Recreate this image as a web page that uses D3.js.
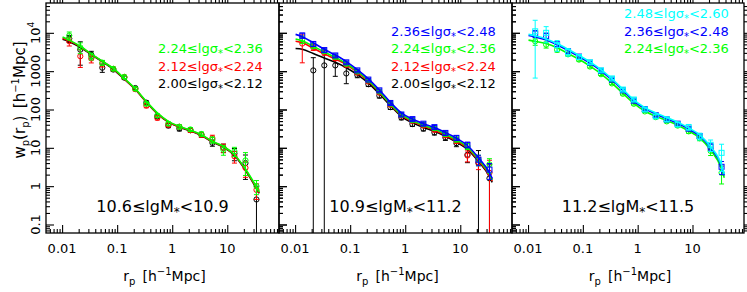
<!DOCTYPE html>
<html><head><meta charset="utf-8">
<script src="https://cdn.jsdelivr.net/npm/d3@7"></script>
<style>
body{margin:0;background:#fff}
svg{display:block}
text{font-family:"DejaVu Sans",Verdana,sans-serif}
</style>
</head><body>
<svg id="c" width="747" height="292"></svg>
<script>
// ---------- data ----------
const rp = [0.0135, 0.0214, 0.0339, 0.0537, 0.0851, 0.135, 0.214, 0.339, 0.537, 0.851, 1.35, 2.14, 3.39, 5.37, 8.51, 13.5, 21.4, 33.9];
const rModel = [0.0102, 0.0135, 0.0214, 0.0339, 0.0537, 0.0851, 0.135, 0.214, 0.339, 0.537, 0.851, 1.35, 2.14, 3.39, 5.37, 8.51, 13.5, 21.4, 33.9, 38];
const xTickValues = [0.01, 0.1, 1, 10];
const xTickLabels = ["0.01", "0.1", "1", "10"];
const yTickValues = [0.1, 1, 10, 100, 1000, 10000];
const yTickLabels = ["0.1", "1", "10", "100", "1000", "10^4"];
const massLabels = ["10.6", "10.9", "11.2", "11.5"];
const sigmaBins = ["2.00", "2.12", "2.24", "2.36", "2.48", "2.60"];

// panel 1 : 10.6 <= lgM* < 10.9
const p1BlackWp  = [7080, 3630, 2690, 1230, 1100, 676, 363, 151, 66, 38, 31.6, 28.8, 21.9, 13.5, 10, 7.1, 4.0, 0.45];
const p1BlackErr = [1500, 2200, 600, 300, 120, 70, 35, 15, 7, 4.5, 4, 3.5, 3, 2.5, 2.5, 2.5, 2.5, 0.55];
const p1BlackModel = [6760, 5890, 4170, 2690, 1780, 1120, 617, 331, 155, 77.6, 46.8, 34.7, 27.5, 20.9, 14.1, 10.5, 6.3, 2.6, 0.87, 0.65];
const p1RedWp  = [6030, 2450, 2140, 1585, 1150, 708, 339, 126, 60.3, 39.8, 35.5, 28.8, 21.9, 17.8, 10, 6.0, 3.0, 0.8];
const p1RedErr = [1500, 1200, 500, 300, 120, 70, 35, 15, 7, 4.5, 4, 3.5, 3, 3.5, 2.5, 2, 1.3, 0.35];
const p1RedModel = [7240, 6170, 4370, 2750, 1820, 1150, 631, 339, 158, 79.4, 47.9, 35.5, 28.2, 21.4, 14.5, 10.7, 6.5, 2.7, 0.9, 0.68];
const p1GreenWp  = [8510, 4170, 2450, 1660, 1150, 708, 347, 141, 69.2, 42.7, 35.5, 30.2, 22.9, 16.2, 8.9, 8.1, 4.7, 1.0];
const p1GreenErr = [2000, 1300, 500, 250, 120, 70, 35, 15, 7, 4.5, 4, 3.5, 3, 3, 2.5, 2.2, 2.8, 0.4];
const p1GreenModel = [7760, 6460, 4470, 2820, 1820, 1175, 646, 347, 162, 81.3, 49, 36.3, 28.8, 21.9, 14.8, 11, 6.6, 2.8, 0.95, 0.71];

// panel 2 : 10.9 <= lgM* < 11.2
const p2BlackWp  = [null, 1047, 1413, 1413, 871, 794, 457, 229, 115, 61.7, 41.7, 31.6, 25.1, 18.6, 13.2, 6.6, 4.0, 1.6];
const p2BlackErr = [0, 1200, 1500, 680, 400, 120, 60, 30, 15, 8, 5.5, 4, 3.5, 3, 2.5, 2.5, 4.5, 2];
const p2BlackModel = [3890, 3720, 2880, 2190, 1700, 1230, 813, 490, 257, 126, 66.1, 44.7, 33.9, 26.9, 20, 14.1, 9.1, 4.4, 1.78, 1.26];
const p2RedWp  = [5250, 4170, 3020, 2140, 1450, 912, 537, 275, 132, 69.2, 50.1, 38, 29.5, 21.4, 15.5, 6.3, 4.2, 2.24];
const p2RedErr = [3600, 700, 400, 250, 150, 80, 45, 25, 12, 7, 5, 4, 3.5, 3, 2.5, 2, 1.5, 2.5];
const p2RedModel = [6030, 5500, 3980, 2820, 2090, 1480, 933, 550, 282, 135, 70.8, 49, 37.2, 28.8, 21.4, 15.1, 9.8, 4.7, 1.9, 1.35];
const p2GreenWp  = [6760, 4570, 3310, 2340, 1550, 977, 575, 295, 141, 72.4, 52.5, 40.7, 32.4, 22.9, 16.6, 11, 4.9, 3.7];
const p2GreenErr = [1500, 700, 400, 250, 150, 80, 45, 25, 12, 7, 5, 4, 3.5, 3, 2.5, 2, 1.5, 1.5];
const p2GreenModel = [6920, 6170, 4470, 3160, 2290, 1585, 1000, 575, 295, 141, 74.1, 51.3, 38.9, 30.9, 22.9, 16.2, 10.5, 5.0, 2.04, 1.45];
const p2BlueWp  = [8510, 5130, 3550, 2570, 1700, 1047, 603, 316, 148, 74.1, 56.2, 42.7, 34.7, 24.5, 18.2, 12.0, 4.9, 2.7];
const p2BlueErr = [1300, 700, 400, 250, 150, 80, 45, 25, 12, 7, 5, 4, 3.5, 3, 2.5, 2, 1.5, 1.2];
const p2BlueModel = [9120, 7940, 5500, 3720, 2630, 1780, 1096, 631, 324, 155, 81.3, 56.2, 42.7, 33.9, 25.1, 17.8, 11.5, 5.5, 2.24, 1.58];

// panel 3 : 11.2 <= lgM* < 11.5
const p3GreenWp  = [6030, 4900, 3630, 2750, 2000, 1318, 832, 479, 257, 141, 89.1, 63.1, 49, 38, 26.9, 17.8, 8.3, 2.24];
const p3GreenErr = [1300, 900, 500, 300, 180, 110, 60, 35, 18, 10, 6, 5, 4, 3.5, 3, 2.5, 2, 1.1];
const p3GreenModel = [6460, 6030, 5250, 4070, 2880, 2040, 1350, 851, 490, 263, 145, 91.2, 66.1, 51.3, 38.9, 27.5, 18.2, 8.7, 2.8, 1.66];
const p3BlueWp  = [9550, 8320, 5010, 3310, 2400, 1660, 1023, 603, 316, 170, 102, 70.8, 55, 42.7, 31.6, 20.4, 10.7, 3.2];
const p3BlueErr = [2000, 1500, 700, 350, 200, 120, 70, 40, 20, 11, 7, 5, 4, 3.5, 3, 2.5, 2, 1.2];
const p3BlueModel = [8510, 7760, 6460, 4900, 3470, 2400, 1620, 1023, 589, 316, 166, 105, 75.9, 57.5, 43.7, 30.9, 20.4, 10, 3.3, 1.9];
const p3CyanWp  = [10960, 10000, 4790, 3160, 2340, 1700, 1047, 646, 331, 182, 100, 66.1, 55, 40.7, 34.7, 20, 12, 7.4];
const p3CyanErr = [10300, 4500, 1500, 700, 300, 180, 100, 60, 30, 18, 10, 7, 6, 5, 6, 4, 4, 5];
const p3CyanModel = [9120, 8320, 6920, 5250, 3720, 2570, 1740, 1096, 631, 339, 178, 112, 81.3, 61.7, 46.8, 33.1, 21.9, 10.7, 3.55, 2.04];

// ---------- styling ----------
const COL = {black:"#000000", red:"#ff0000", green:"#00ff00", blue:"#0000ff", cyan:"#00ffff"};
const legendRow = {cyan:0, blue:1, green:2, red:3, black:4};
const binOf = {black:0, red:1, green:2, blue:3, cyan:4};

const panels = [
  {mass:[0,1], series:[
    {c:"black", wp:p1BlackWp, err:p1BlackErr, model:p1BlackModel, m:"circle"},
    {c:"red", wp:p1RedWp, err:p1RedErr, model:p1RedModel, m:"circle"},
    {c:"green", wp:p1GreenWp, err:p1GreenErr, model:p1GreenModel, m:"circle"}]},
  {mass:[1,2], series:[
    {c:"black", wp:p2BlackWp, err:p2BlackErr, model:p2BlackModel, m:"circle"},
    {c:"red", wp:p2RedWp, err:p2RedErr, model:p2RedModel, m:"circle"},
    {c:"green", wp:p2GreenWp, err:p2GreenErr, model:p2GreenModel, m:"circle"},
    {c:"blue", wp:p2BlueWp, err:p2BlueErr, model:p2BlueModel, m:"square"}]},
  {mass:[2,3], series:[
    {c:"green", wp:p3GreenWp, err:p3GreenErr, model:p3GreenModel, m:"circle"},
    {c:"blue", wp:p3BlueWp, err:p3BlueErr, model:p3BlueModel, m:"square"},
    {c:"cyan", wp:p3CyanWp, err:p3CyanErr, model:p3CyanModel, m:"square"}]}
];

const TOP = 3, BOT = 233;
const panelX = [[46, 279], [279, 512], [512, 744]];
const xDomain = [0.0051, 87], yDomain = [0.06, 60000];
const svg = d3.select("#c");

function minorTicks(domain) {
  const out = [];
  for (let e = -4; e <= 6; e++) for (let m = 2; m <= 9; m++) {
    const v = m * Math.pow(10, e);
    if (v > domain[0] && v < domain[1]) out.push(v);
  }
  return out;
}
const xMinor = minorTicks(xDomain), yMinor = minorTicks(yDomain);

panels.forEach((p, i) => {
  const [x0, x1] = panelX[i];
  const x = d3.scaleLog().domain(xDomain).range([x0, x1]);
  const y = d3.scaleLog().domain(yDomain).range([BOT, TOP]);
  const g = svg.append("g");
  const clipId = "clip" + i;
  svg.append("clipPath").attr("id", clipId).append("rect")
    .attr("x", x0).attr("y", TOP).attr("width", x1 - x0).attr("height", BOT - TOP);
  const plot = g.append("g").attr("clip-path", `url(#${clipId})`);

  p.series.forEach(s => {
    const col = COL[s.c];
    const line = d3.line().x((d, k) => x(rModel[k])).y(d => y(d)).curve(d3.curveMonotoneX);
    plot.append("path").datum(s.model).attr("d", line)
      .attr("fill", "none").attr("stroke", col).attr("stroke-width", 1.6);
    s.wp.forEach((v, k) => {
      if (v == null) return;
      const cx = x(rp[k]);
      const lo = v - s.err[k];
      const yLo = lo > 0 ? y(lo) : BOT + 2;
      const yHi = y(v + s.err[k]);
      plot.append("line").attr("x1", cx).attr("x2", cx).attr("y1", yLo).attr("y2", yHi)
        .attr("stroke", col).attr("stroke-width", 1);
      plot.append("line").attr("x1", cx - 2.5).attr("x2", cx + 2.5).attr("y1", yHi).attr("y2", yHi)
        .attr("stroke", col).attr("stroke-width", 1);
      if (lo > 0) plot.append("line").attr("x1", cx - 2.5).attr("x2", cx + 2.5).attr("y1", yLo).attr("y2", yLo)
        .attr("stroke", col).attr("stroke-width", 1);
      if (s.m === "circle") {
        plot.append("circle").attr("cx", cx).attr("cy", y(v)).attr("r", 2.6)
          .attr("fill", "none").attr("stroke", col).attr("stroke-width", 1);
      } else {
        plot.append("rect").attr("x", cx - 2.5).attr("y", y(v) - 2.5).attr("width", 5).attr("height", 5)
          .attr("fill", "none").attr("stroke", col).attr("stroke-width", 1);
      }
    });
  });

  // frame
  g.append("rect").attr("x", x0).attr("y", TOP).attr("width", x1 - x0).attr("height", BOT - TOP)
    .attr("fill", "none").attr("stroke", "#000").attr("stroke-width", 1.3);

  // inward ticks on all four sides
  [[d3.axisBottom, BOT, -8, -4], [d3.axisTop, TOP, 8, 4]].forEach(([fn, yy, big, small]) => {
    const a = g.append("g").attr("transform", `translate(0,${yy})`)
      .call(fn(x).tickValues(xTickValues).tickSize(big).tickFormat(""));
    a.select(".domain").remove();
    const b = g.append("g").attr("transform", `translate(0,${yy})`)
      .call(fn(x).tickValues(xMinor).tickSize(small).tickFormat(""));
    b.select(".domain").remove();
  });
  [[d3.axisLeft, x0, -8, -4], [d3.axisRight, x1, 8, 4]].forEach(([fn, xx, big, small]) => {
    const a = g.append("g").attr("transform", `translate(${xx},0)`)
      .call(fn(y).tickValues(yTickValues).tickSize(big).tickFormat(""));
    a.select(".domain").remove();
    const b = g.append("g").attr("transform", `translate(${xx},0)`)
      .call(fn(y).tickValues(yMinor).tickSize(small).tickFormat(""));
    b.select(".domain").remove();
  });
  g.selectAll(".tick line").attr("stroke", "#000").attr("stroke-width", 1.1);

  // x tick labels
  xTickValues.forEach((v, k) => {
    g.append("text").attr("x", x(v)).attr("y", 253).attr("text-anchor", "middle")
      .attr("font-size", 13).text(xTickLabels[k]);
  });
  // x title
  const xt = g.append("text").attr("x", (x0 + x1) / 2 + 2).attr("y", 281).attr("text-anchor", "middle").attr("font-size", 14);
  xt.append("tspan").text("r");
  xt.append("tspan").attr("font-size", 10).attr("dy", 4).text("p");
  xt.append("tspan").attr("dy", -4).text("\u2002[h");
  xt.append("tspan").attr("font-size", 10).attr("dy", -6).text("\u22121");
  xt.append("tspan").attr("dy", 6).text("Mpc]");

  // mass label
  const ml = g.append("text").attr("x", (x0 + x1) / 2).attr("y", 212).attr("text-anchor", "middle").attr("font-size", 16);
  ml.append("tspan").text(massLabels[p.mass[0]] + "\u2264lgM");
  ml.append("tspan").attr("font-size", 12).attr("dy", 4).text("*");
  ml.append("tspan").attr("dy", -4).text("<" + massLabels[p.mass[1]]);

  // legend
  p.series.forEach(s => {
    const b = binOf[s.c];
    const t = g.append("text").attr("x", x0 + 112).attr("y", 18 + 17.5 * legendRow[s.c])
      .attr("font-size", 13).attr("fill", COL[s.c]);
    t.append("tspan").text(sigmaBins[b] + "\u2264lg\u03c3");
    t.append("tspan").attr("font-size", 10).attr("dy", 4).text("*");
    t.append("tspan").attr("dy", -4).text("<" + sigmaBins[b + 1]);
  });

  if (i === 0) {
    yTickValues.forEach((v, k) => {
      const t = g.append("text").attr("transform", `translate(40,${y(v)}) rotate(-90)`)
        .attr("text-anchor", "middle").attr("font-size", 13);
      const lab = yTickLabels[k];
      if (lab.indexOf("^") >= 0) {
        const [b, e] = lab.split("^");
        t.append("tspan").text(b);
        t.append("tspan").attr("font-size", 9).attr("dy", -6).text(e);
      } else t.text(lab);
    });
    const yt = svg.append("text").attr("transform", `translate(25,100) rotate(-90)`)
      .attr("text-anchor", "middle").attr("font-size", 15);
    yt.append("tspan").text("w");
    yt.append("tspan").attr("font-size", 10).attr("dy", 4).text("p");
    yt.append("tspan").attr("dy", -4).text("(r");
    yt.append("tspan").attr("font-size", 10).attr("dy", 4).text("p");
    yt.append("tspan").attr("dy", -4).text(")\u2002[h");
    yt.append("tspan").attr("font-size", 10).attr("dy", -6).text("\u22121");
    yt.append("tspan").attr("dy", 6).text("Mpc]");
  }
});
</script>
</body></html>
